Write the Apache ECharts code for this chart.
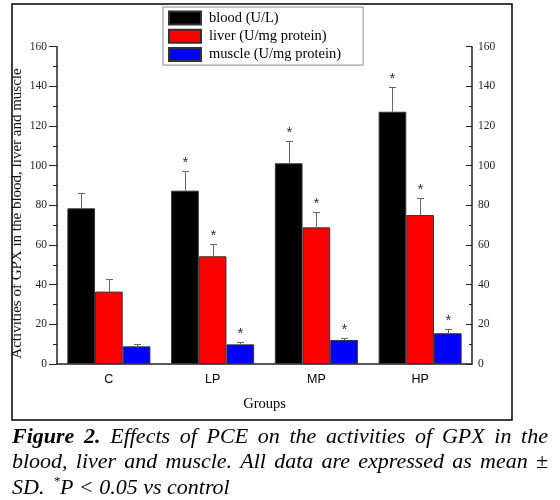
<!DOCTYPE html>
<html><head><meta charset="utf-8">
<script src="https://cdn.jsdelivr.net/npm/echarts@6/dist/echarts.min.js"></script>
<style>html,body{margin:0;padding:0;background:#fff}#c{width:560px;height:500px}</style>
</head><body><div id="c"></div><script>
// ---- data ----
const categories = ['C', 'LP', 'MP', 'HP'];
const seriesNames = ['blood (U/L)', 'liver (U/mg protein)', 'muscle (U/mg protein)'];
const bloodMean = [78.5, 87.4, 101.2, 127.2];
const bloodSD = [7.6, 9.9, 11.4, 12.3];
const liverMean = [36.5, 54.3, 68.9, 75.1];
const liverSD = [6.2, 6.1, 7.9, 8.8];
const muscleMean = [8.9, 9.9, 12.1, 15.5];
const muscleSD = [1.0, 1.0, 1.2, 2.0];
const significant = [false, true, true, true];
const yMin = 0, yMax = 160, yStep = 20;
const yAxisTitle = 'Activities of GPX in the blood, liver and muscle';
const xAxisTitle = 'Groups';
const captionLine1Bold = ['Figure', '2.'];
const captionLine1 = 'Effects of PCE on the activities of GPX in the';
const captionLine2 = 'blood, liver and muscle. All data are expressed as mean \u00b1';
const captionLine3a = 'SD.';
const captionLine3sup = '*';
const captionLine3b = 'P < 0.05 vs control';

const barColors = ['#000000', '#ff0000', '#0000ff'];
const means = [bloodMean, liverMean, muscleMean];
const sds = [bloodSD, liverSD, muscleSD];

const chart = echarts.init(document.getElementById('c'), null, {renderer: 'canvas'});

function errSeries(idx) {
  const mean = means[idx], sd = sds[idx];
  return {
    type: 'custom', xAxisIndex: 0, yAxisIndex: 0, z: 5, silent: true,
    data: categories.map((c, i) => [i, mean[i], mean[i] + sd[i], significant[i] ? 1 : 0]),
    encode: {x: 0, y: [1, 2]},
    renderItem(params, api) {
      const i = api.value(0);
      const bandW = api.size([1, 0])[0];
      const barW = bandW * 0.8 / 3;
      const cx = Math.round(api.coord([i, 0])[0] + (idx - 1) * barW) + 0.5;
      const yMean = api.coord([i, api.value(1)])[1];
      const yTop = Math.round(api.coord([i, api.value(2)])[1]) + 0.5;
      const children = [
        {type: 'line', shape: {x1: cx, y1: yMean, x2: cx, y2: yTop}, style: {stroke: '#666', lineWidth: 1}},
        {type: 'line', shape: {x1: cx - 3.5, y1: yTop, x2: cx + 3.5, y2: yTop}, style: {stroke: '#666', lineWidth: 1}}
      ];
      if (api.value(3)) {
        children.push({type: 'text', x: cx, y: yTop - 9,
          style: {text: '*', fill: '#333', font: '15px "Liberation Sans"', align: 'center', verticalAlign: 'middle'}});
      }
      return {type: 'group', children};
    }
  };
}

// caption helpers
const mctx = document.createElement('canvas').getContext('2d');
function measure(font, t) { mctx.font = font; return mctx.measureText(t).width; }
const capSize = 22;
const fItal = 'italic ' + capSize + 'px "Liberation Serif"';
const fBoldItal = 'italic bold ' + capSize + 'px "Liberation Serif"';
function justify(words, x0, x1, baseline) {
  const ws = words.map(w => measure(w.font, w.t));
  const total = ws.reduce((a, b) => a + b, 0);
  const gap = (x1 - x0 - total) / (words.length - 1);
  let x = x0; const els = [];
  words.forEach((w, k) => {
    els.push({type: 'text', x: x, y: baseline, style: {text: w.t, font: w.font, fill: '#000', align: 'left', verticalAlign: 'bottom'}});
    x += ws[k] + gap;
  });
  return els;
}
const line1Words = captionLine1Bold.map(t => ({t, font: fBoldItal})).concat(captionLine1.split(' ').map(t => ({t, font: fItal})));
const line2Words = captionLine2.split(' ').map(t => ({t, font: fItal}));
const capEls = [].concat(
  justify(line1Words, 12, 548, 448),
  justify(line2Words, 12, 548, 473)
);
const sdW = measure(fItal, captionLine3a);
const spW = measure(fItal, ' ');
capEls.push({type: 'text', x: 12, y: 499, style: {text: captionLine3a, font: fItal, fill: '#000', align: 'left', verticalAlign: 'bottom'}});
capEls.push({type: 'text', x: 12 + sdW + spW + 4, y: 488, style: {text: captionLine3sup, font: '13px "Liberation Serif"', fill: '#000', align: 'left', verticalAlign: 'bottom'}});
capEls.push({type: 'text', x: 12 + sdW + spW + 10, y: 499, style: {text: captionLine3b, font: fItal, fill: '#000', align: 'left', verticalAlign: 'bottom'}});

const axisCol = '#222';
const yAxisBase = {
  type: 'value', min: yMin, max: yMax, interval: yStep,
  splitLine: {show: false},
  axisLine: {show: true, lineStyle: {color: axisCol, width: 1.5}},
  minorTick: {show: true, splitNumber: 2, lineStyle: {color: axisCol}},
  axisLabel: {fontFamily: 'Liberation Serif', fontSize: 11.5, color: '#222'}
};

const option = {
  animation: false,
  backgroundColor: '#fff',
  grid: {left: 57, right: 88, top: 46.7, bottom: 136, containLabel: false},
  legend: {
    data: seriesNames, orient: 'vertical', left: 163, top: 7,
    itemWidth: 32, itemHeight: 13, itemGap: 3.3, icon: 'rect',
    padding: [3.5, 22, 3, 5], borderColor: '#888', borderWidth: 1,
    textStyle: {fontFamily: 'Liberation Serif', fontSize: 14.5, color: '#000', padding: [0, 0, 0, 3]}
  },
  xAxis: [
    {
      type: 'category', data: categories, position: 'bottom', boundaryGap: true,
      axisLine: {lineStyle: {color: axisCol, width: 1.5}},
      axisTick: {alignWithLabel: true, length: 5, lineStyle: {color: axisCol}},
      axisLabel: {fontFamily: 'Liberation Sans', fontSize: 12.5, color: '#000', margin: 9},
      name: xAxisTitle, nameLocation: 'middle', nameGap: 33,
      nameTextStyle: {fontFamily: 'Liberation Serif', fontSize: 14.5, color: '#000'}
    },
    {
      type: 'category', data: categories, position: 'bottom', boundaryGap: true,
      axisLine: {show: false},
      axisTick: {length: 3, lineStyle: {color: axisCol}},
      axisLabel: {show: false}
    }
  ],
  yAxis: [
    Object.assign({}, yAxisBase, {
      position: 'left',
      axisTick: {show: true, length: 8, inside: false, lineStyle: {color: axisCol}},
      minorTick: {show: true, splitNumber: 2, length: 4, lineStyle: {color: axisCol}},
      axisLabel: Object.assign({}, yAxisBase.axisLabel, {margin: 10})
    }),
    Object.assign({}, yAxisBase, {
      position: 'right',
      axisTick: {show: true, length: 6, inside: true, lineStyle: {color: axisCol}},
      minorTick: {show: true, splitNumber: 2, length: 3, lineStyle: {color: axisCol}},
      axisLabel: Object.assign({}, yAxisBase.axisLabel, {margin: 6})
    })
  ],
  series: means.map((m, idx) => ({
    type: 'bar', name: seriesNames[idx], data: m, xAxisIndex: 0, yAxisIndex: 0,
    barGap: '0%', barCategoryGap: '20%',
    itemStyle: {color: barColors[idx], borderColor: '#333', borderWidth: 1}
  })).concat([0, 1, 2].map(errSeries)),
  graphic: [
    {type: 'text', x: 17.5, y: 213.5, rotation: Math.PI / 2, z: 10,
      style: {text: yAxisTitle, font: '15px "Liberation Serif"', fill: '#111', align: 'center', verticalAlign: 'middle'}},
    {type: 'rect', z: 11, shape: {x: 0, y: 0, width: 12, height: 425}, style: {fill: '#fff'}},
    {type: 'rect', z: 12, shape: {x: 12, y: 4, width: 500, height: 416}, style: {fill: 'none', stroke: '#000', lineWidth: 1.5}}
  ].concat(capEls)
};
chart.setOption(option);
</script></body></html>
